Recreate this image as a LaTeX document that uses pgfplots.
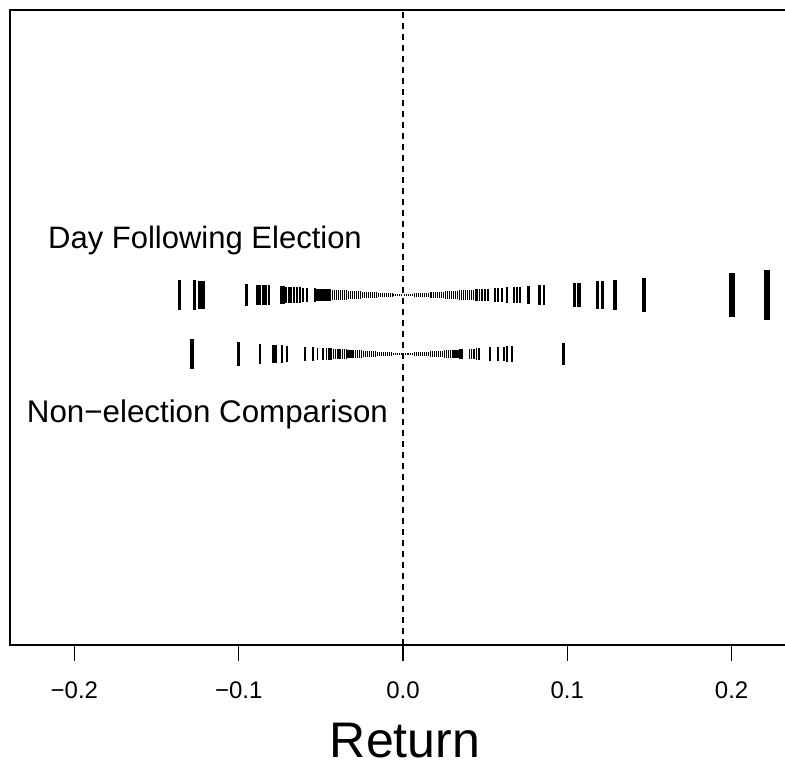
\documentclass[border=0pt]{standalone}
\usepackage{fontspec}
\setmainfont{Liberation Sans}
\usepackage{pgfplots}
\pgfplotsset{compat=1.18}
\usepackage{pgfplotstable}

\pgfdeclareplotmark{rugbar}{%
  \pgfpathrectangle{\pgfpoint{-0.5*\ww pt}{-\hh pt}}{\pgfpoint{\ww pt}{2*\hh pt}}%
  \pgfusepathqfill}

\pgfplotstableread{
v
-0.1360
-0.1270
-0.1235
-0.1215
-0.0951
-0.0887
-0.0870
-0.0850
-0.0834
-0.0814
-0.0744
-0.0728
-0.0710
-0.0695
-0.0680
-0.0665
-0.0647
-0.0627
-0.0611
-0.0584
-0.0536
-0.0524
-0.0512
-0.0500
-0.0488
-0.0476
-0.0464
-0.0452
-0.0440
-0.0428
-0.0416
-0.0404
-0.0392
-0.0380
-0.0368
-0.0356
-0.0344
-0.0332
-0.0320
-0.0308
-0.0296
-0.0284
-0.0272
-0.0260
-0.0248
-0.0236
-0.0224
-0.0212
-0.0200
-0.0188
-0.0176
-0.0164
-0.0152
-0.0140
-0.0128
-0.0116
-0.0104
-0.0092
-0.0080
-0.0068
-0.0056
-0.0044
-0.0032
-0.0020
-0.0008
0.0008
0.0020
0.0032
0.0044
0.0056
0.0068
0.0080
0.0092
0.0104
0.0116
0.0128
0.0140
0.0152
0.0164
0.0176
0.0188
0.0200
0.0212
0.0224
0.0236
0.0248
0.0260
0.0272
0.0284
0.0296
0.0308
0.0320
0.0332
0.0344
0.0356
0.0368
0.0380
0.0392
0.0404
0.0416
0.0428
0.0440
0.0452
0.0466
0.0482
0.0499
0.0518
0.0560
0.0580
0.0600
0.0630
0.0678
0.0692
0.0712
0.0763
0.0830
0.0858
0.1043
0.1071
0.1183
0.1213
0.1290
0.1469
0.2002
0.2214
}\dayafter

\pgfplotstableread{
v
-0.1286
-0.1002
-0.0870
-0.0789
-0.0773
-0.0735
-0.0708
-0.0596
-0.0550
-0.0520
-0.0488
-0.0465
-0.0452
-0.0438
-0.0424
-0.0410
-0.0396
-0.0384
-0.0370
-0.0358
-0.0345
-0.0335
-0.0323
-0.0311
-0.0299
-0.0287
-0.0275
-0.0263
-0.0251
-0.0239
-0.0227
-0.0215
-0.0203
-0.0191
-0.0179
-0.0167
-0.0155
-0.0143
-0.0131
-0.0119
-0.0107
-0.0095
-0.0083
-0.0071
-0.0059
-0.0047
-0.0035
-0.0023
-0.0011
0.0011
0.0023
0.0035
0.0047
0.0059
0.0071
0.0083
0.0095
0.0107
0.0119
0.0131
0.0143
0.0155
0.0167
0.0179
0.0191
0.0203
0.0215
0.0227
0.0239
0.0251
0.0263
0.0275
0.0287
0.0299
0.0311
0.0323
0.0335
0.0347
0.0359
0.0404
0.0418
0.0432
0.0448
0.0464
0.0530
0.0580
0.0615
0.0631
0.0662
0.0976
}\nonelection

\begin{document}
\begin{tikzpicture}
\path[use as bounding box] (-10pt,-120pt) rectangle (775pt,645pt);
\begin{axis}[
  scale only axis, width=775pt, height=635pt,
  xmin=-0.2392, xmax=0.2325, ymin=0, ymax=635,
  axis line style={draw=none},
  ytick=\empty,
  xtick={-0.2,-0.1,0,0.1,0.2},
  xticklabels={−0.2,−0.1,0.0,0.1,0.2},
  xtick pos=bottom, tick align=outside, major tick length=16pt,
  every tick/.style={black, line width=1.3pt},
  xticklabel style={font=\fontsize{24}{28}\selectfont, anchor=base, yshift=-38pt},
  xlabel={Return},
  xlabel style={font=\fontsize{50}{58}\selectfont, inner sep=0pt, at={(axis description cs:0.5,0)}, anchor=base, yshift=-113pt, xshift=7.5pt},
  clip=false,
]
\addplot[black, line width=1.2pt, dash pattern=on 6pt off 5pt] coordinates {(0,0) (0,635)};

\addplot[scatter, only marks, mark=rugbar,
  scatter/use mapped color={draw=black, fill=black},
  visualization depends on={0.8+108*abs(\thisrow{v}) \as \hh},
  visualization depends on={0.5+24*abs(\thisrow{v}) \as \ww},
] table[x=v, y=v, y expr=350] {\dayafter};

\addplot[scatter, only marks, mark=rugbar,
  scatter/use mapped color={draw=black, fill=black},
  visualization depends on={0.8+108*abs(\thisrow{v}) \as \hh},
  visualization depends on={0.5+24*abs(\thisrow{v}) \as \ww},
] table[x=v, y=v, y expr=291] {\nonelection};

\node[font=\fontsize{31}{36}\selectfont] at (axis cs:-0.1205,405) {Day Following Election};
\node[font=\fontsize{31.3}{36}\selectfont] at (axis cs:-0.1190,231) {Non−election Comparison};

\draw[line width=1.3pt, line join=miter] (rel axis cs:1,0) -- (rel axis cs:0,0) -- (rel axis cs:0,1) -- (rel axis cs:1,1);
\end{axis}
\end{tikzpicture}
\end{document}
